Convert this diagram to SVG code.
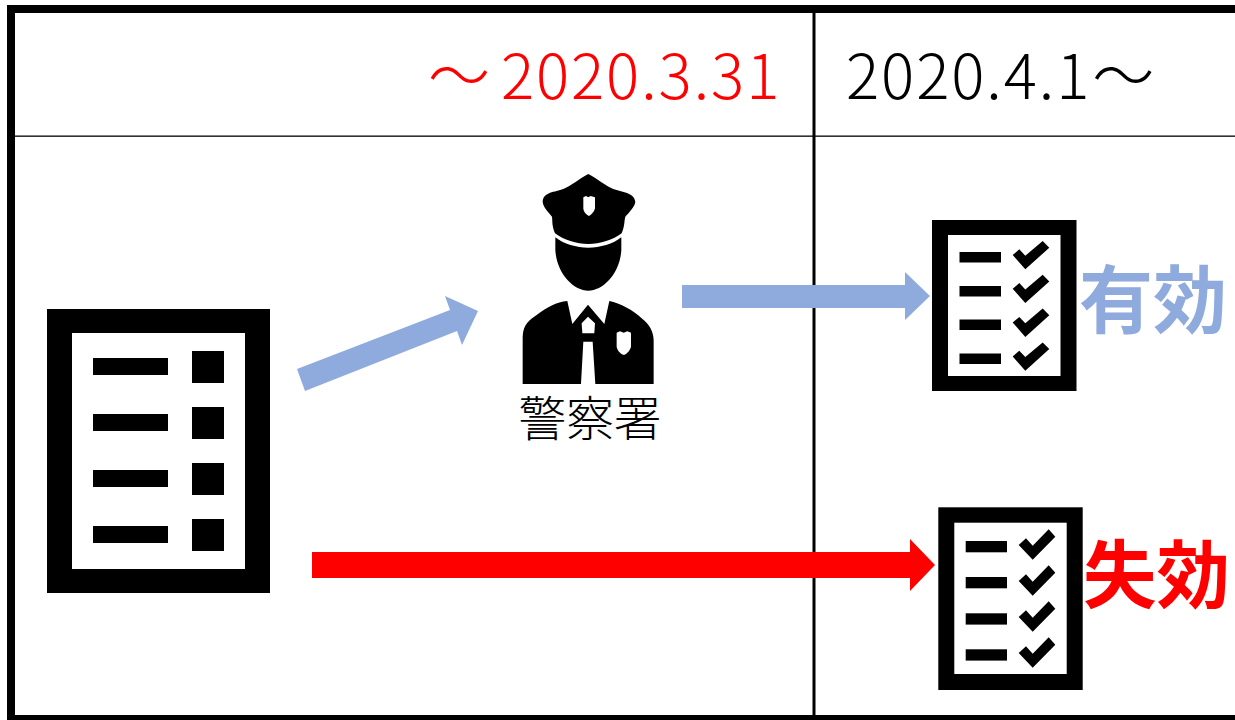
<svg xmlns="http://www.w3.org/2000/svg" width="1235" height="720" viewBox="0 0 1235 720">
<style>
text{font-family:"Noto Sans CJK JP","Noto Sans",sans-serif}
.date{font-size:62px;font-weight:300;letter-spacing:1.9px}
.status{font-size:74px;font-weight:700}
.k{fill:#000}.w{fill:#fff}
</style>
<defs>
<g id="check"><path class="k" d="M0,14L6.600,8.300 12.600,14.700 30,0 36.600,6.700 12.600,28.300Z"/></g>
<g id="check2"><path class="k" d="M0,16L7.300,9.300 14,16.700 30,0.300 36.600,7.700 14,30.700Z"/></g>
</defs>
<rect width="1235" height="720" fill="#fff"/>
<g id="frame">
<path d="M11,720V9H1235" fill="none" stroke="#000" stroke-width="8"/>
<rect x="7" y="715" width="1228" height="5" class="k"/>
<rect x="15" y="135.500" width="1220" height="1.300" class="k"/>
<rect x="812.500" y="13" width="3" height="703" class="k"/>
</g>
<g id="connectors">
<path id="arrow-to-police" fill="#8FAADC" d="M297,369L450,310 445,296 478,311 462,345 457,331 305,391Z"/>
<path id="arrow-to-valid" fill="#8FAADC" d="M682,285H905V272L930,296 905,320V308H682Z"/>
<path id="arrow-to-invalid" fill="#FF0000" d="M312,552H910V539L935,565 910,591V578H312Z"/>
</g>
<g id="header-before"><text class="date" x="428" y="99" fill="#FF0000">〜<tspan dx="9">2020.3.31</tspan></text></g>
<g id="header-after"><text class="date" x="846" y="99" fill="#000">2020.4.1<tspan dx="1">〜</tspan></text></g>
<g id="document-left">
<rect class="k" x="47" y="309" width="223" height="284"/>
<rect class="w" x="72" y="333" width="173" height="236"/>
<rect class="k" x="93" y="358" width="75" height="17"/>
<rect class="k" x="93" y="414" width="75" height="17"/>
<rect class="k" x="93" y="470" width="75" height="17"/>
<rect class="k" x="93" y="526" width="75" height="17"/>
<rect class="k" x="192" y="351" width="32" height="32"/>
<rect class="k" x="192" y="407" width="32" height="32"/>
<rect class="k" x="192" y="463" width="32" height="32"/>
<rect class="k" x="192" y="519" width="32" height="32"/>
</g>
<g id="police">
<g transform="translate(500,160) scale(.3333)">
<path class="k" d="M265,42C240,55 210,80 190,87C165,97 130,95 128,125C130,145 150,160 156,170C158,185 155,195 165,220C190,240 230,252 265,252C300,252 340,240 365,220C375,195 372,185 376,170C385,160 405,140 406,125C403,97 365,97 340,87C320,80 290,55 265,42Z"/>
<path class="w" d="M250,112L258,108 265,112 272,108 285,112V145C282,158 272,165 267,168C260,165 250,155 250,145Z"/>
<path class="k" d="M166,232C190,252 230,263 265,263C300,263 340,252 364,232V270C360,340 310,392 265,392C220,392 170,340 166,270Z"/>
<path class="k" d="M68,672V530C70,490 90,480 110,465C140,442 170,425 202,423L217,492 264,434 313,492 328,423C360,430 400,450 425,475C450,495 460,515 461,540V672H286L278,545H250L243,672Z"/>
<path class="w" d="M264,470L285,490 283,520H247L245,490Z"/>
<path class="w" d="M350,518L360,514 371,518 382,514 393,518V560C390,572 380,582 372,585C362,582 352,572 350,560Z"/>
</g>
<text x="590" y="436" font-size="47.500" font-weight="300" text-anchor="middle" fill="#000" textLength="143" lengthAdjust="spacingAndGlyphs">警察署</text>
</g>
<g id="checklist-valid">
<rect class="k" x="932" y="220" width="144.500" height="171"/>
<rect class="w" x="948" y="235" width="112.500" height="141"/>
<rect class="k" x="959.500" y="252" width="41.500" height="10.500"/>
<rect class="k" x="959.500" y="286" width="41.500" height="10.500"/>
<rect class="k" x="959.500" y="319.500" width="41.500" height="10.500"/>
<rect class="k" x="959.500" y="353.500" width="41.500" height="10.500"/>
<use href="#check" x="1012.700" y="241"/>
<use href="#check" x="1012.700" y="274.800"/>
<use href="#check" x="1012.700" y="308.600"/>
<use href="#check" x="1012.700" y="342.400"/>
<text class="status" x="1079" y="327" fill="#8FAADC" textLength="148" lengthAdjust="spacingAndGlyphs">有効</text>
</g>
<g id="checklist-invalid">
<rect class="k" x="938.300" y="507.300" width="144.400" height="182.700"/>
<rect class="w" x="954.300" y="522.700" width="112.400" height="151.300"/>
<rect class="k" x="965.700" y="541" width="41.300" height="11.300"/>
<rect class="k" x="965.700" y="577" width="41.300" height="11.300"/>
<rect class="k" x="965.700" y="613.300" width="41.300" height="11.300"/>
<rect class="k" x="965.700" y="649.300" width="41.300" height="11.300"/>
<use href="#check2" x="1018.700" y="529"/>
<use href="#check2" x="1018.700" y="565"/>
<use href="#check2" x="1018.700" y="601"/>
<use href="#check2" x="1018.700" y="637"/>
<text class="status" x="1083" y="602" fill="#FF0000" textLength="147" lengthAdjust="spacingAndGlyphs">失効</text>
</g>
</svg>
